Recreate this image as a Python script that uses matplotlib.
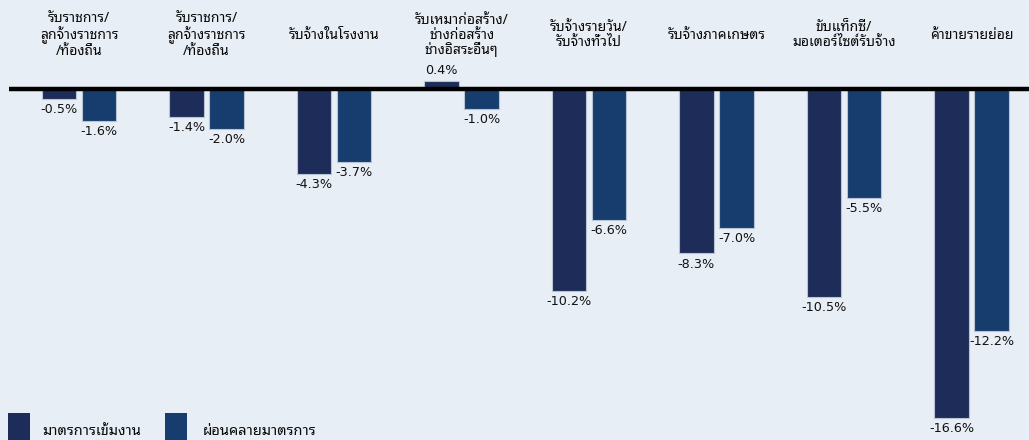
import matplotlib
matplotlib.use("Agg")
import matplotlib.pyplot as plt
import numpy as np
from matplotlib.patches import Rectangle

THAI = ['Noto Sans Thai Looped', 'DejaVu Sans']
NUM = ['DejaVu Sans']
plt.rcParams['font.family'] = THAI

categories = [
    "รับราชการ/\nลูกจ้างราชการ\n/ท้องถิ่น",
    "รับราชการ/\nลูกจ้างราชการ\n/ท้องถิ่น",
    "รับจ้างในโรงงาน",
    "รับเหมาก่อสร้าง/\nช่างก่อสร้าง\nช่างอิสระอื่นๆ",
    "รับจ้างรายวัน/\nรับจ้างทั่วไป",
    "รับจ้างภาคเกษตร",
    "ขับแท็กซี่/\nมอเตอร์ไซต์รับจ้าง",
    "ค้าขายรายย่อย",
]
series_names = ["มาตรการเข้มงาน", "ผ่อนคลายมาตรการ"]
strict = [-0.5, -1.4, -4.3, 0.4, -10.2, -8.3, -10.5, -16.6]
relaxed = [-1.6, -2.0, -3.7, -1.0, -6.6, -7.0, -5.5, -12.2]

dark = "#1e2c5a"
light = "#173d6f"
bg = "#e8eef5"

W, H = 1029, 440
fig = plt.figure(figsize=(W / 100, H / 100), dpi=100, facecolor=bg)
ax = fig.add_axes([0, 0, 1, 1], facecolor=bg)

x = np.arange(len(categories))
bw = 0.267
off = 0.157
ax.bar(x - off, strict, bw, color=dark, edgecolor="#b8c3d3", linewidth=0.8, zorder=2)
ax.bar(x + off, relaxed, bw, color=light, edgecolor="#b8c3d3", linewidth=0.8, zorder=2)

px_per_unit = 127.5
x1 = (W - 79) / px_per_unit
ax.set_xlim(-79 / px_per_unit, x1)
ppy = 19.8
ax.set_ylim(-(H - 89) / ppy, 89 / ppy)
ax.axis("off")

ax.plot([(9 - 79) / px_per_unit, x1], [0, 0], color="black", lw=3.2, zorder=3, solid_capstyle="butt")

def lab(xs, vals):
    for xi, v in zip(xs, vals):
        if v >= 0:
            ax.annotate(f"{v:.1f}%", (xi, v), xytext=(0, 3), textcoords="offset points",
                        ha="center", va="bottom", fontsize=9.2, color="#111111", family=NUM)
        else:
            ax.annotate(f"{v:.1f}%", (xi, v), xytext=(0, -3), textcoords="offset points",
                        ha="center", va="top", fontsize=9.2, color="#111111", family=NUM)

lab(x - off, strict)
lab(x + off, relaxed)

for xi, c in zip(x, categories):
    ax.text(xi, (89 - 35) / ppy, c, ha="center", va="center", fontsize=10,
            linespacing=1.0, color="#0a0a0a")

lx = [(8, 42), (165, 203)]
for (sx, tx), col, name in zip(lx, [dark, light], series_names):
    fig.patches.append(Rectangle((sx / W, 0), 22 / W, 27 / H, transform=fig.transFigure,
                                 facecolor=col, edgecolor="none"))
    fig.text(tx / W, 1 - 431 / H, name, ha="left", va="center", fontsize=10.5, color="#0a0a0a")

fig.savefig("out.png", dpi=100, facecolor=bg)
